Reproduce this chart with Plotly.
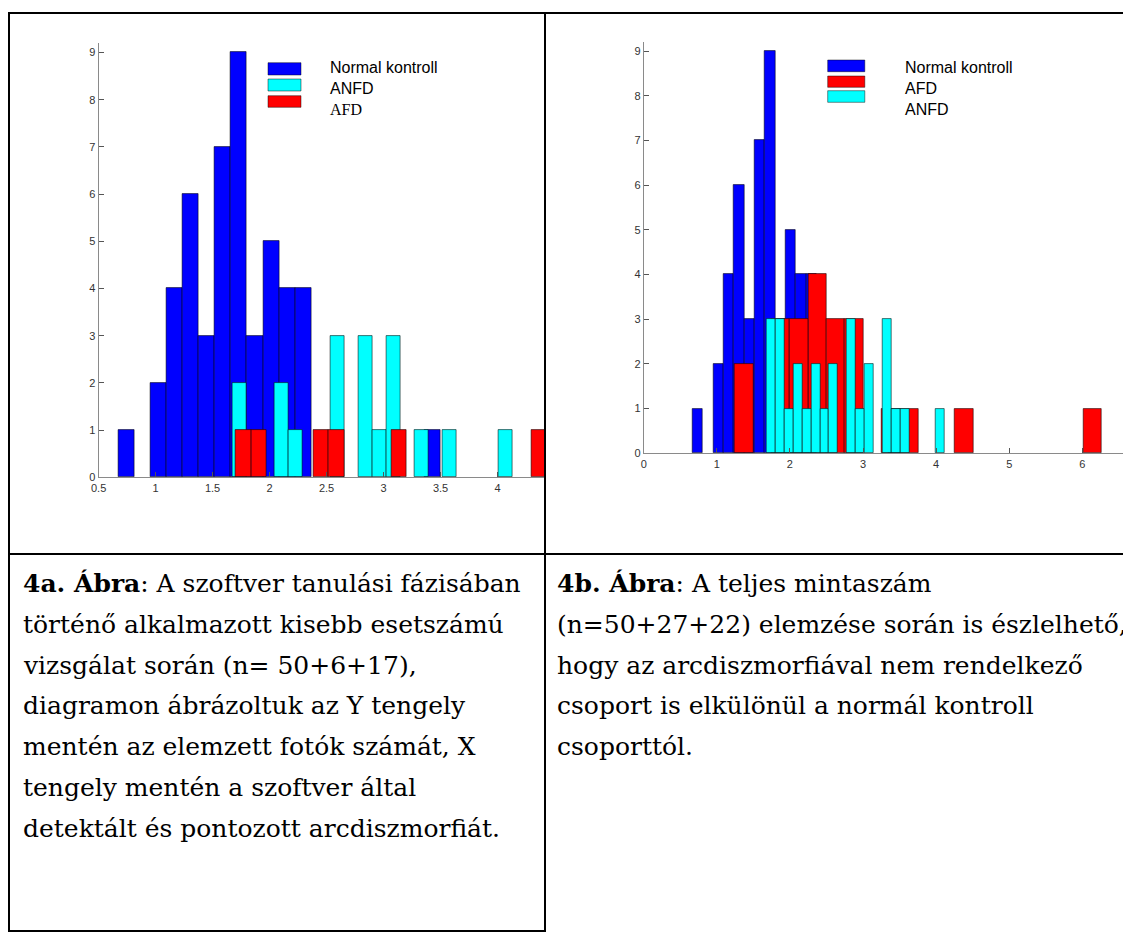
import numpy as np
import plotly.graph_objects as go

# The page body has an 8px default margin, so the figure is drawn 8px
# smaller and all reference pixel positions are shifted by that offset.
PAGE_W, PAGE_H = 1131, 933
OFF = 8
W, H = PAGE_W - OFF, PAGE_H - OFF

# ---------------- data ----------------
# Histogram bins: first bin edge, bin width, counts per bin (20 bins each)
normal_start, normal_width = 0.672, 0.1413
normal_counts = [1, 0, 2, 4, 6, 3, 7, 9, 3, 5, 4, 4, 0, 0, 0, 0, 0, 0, 0, 1]

# figure 4a
anfd_a_start, anfd_a_width = 1.673, 0.1228
anfd_a_counts = [2, 0, 0, 2, 1, 0, 0, 3, 0, 3, 1, 3, 0, 1, 0, 1, 0, 0, 0, 1]
afd_a_start, afd_a_width = 1.702, 0.1366
afd_a_counts = [1, 1, 0, 0, 0, 1, 1, 0, 0, 0, 1, 0, 0, 0, 0, 0, 0, 0, 0, 1]

# figure 4b
afd_b_start, afd_b_width = 1.249, 0.2508
afd_b_counts = [2, 0, 3, 3, 4, 3, 3, 0, 1, 1, 0, 0, 1, 0, 0, 0, 0, 0, 0, 1]
anfd_b_start, anfd_b_width = 1.683, 0.1219
anfd_b_counts = [3, 3, 1, 2, 1, 2, 1, 2, 0, 3, 1, 2, 0, 3, 1, 1, 0, 0, 0, 1]

x_ticks_a = [0.5, 1, 1.5, 2, 2.5, 3, 3.5, 4]
x_tick_labels_a = ["0.5", "1", "1.5", "2", "2.5", "3", "3.5", "4"]
x_ticks_b = [0, 1, 2, 3, 4, 5, 6]
y_ticks = [0, 1, 2, 3, 4, 5, 6, 7, 8, 9]

legend_a = ["Normal kontroll", "ANFD", "AFD"]
legend_b = ["Normal kontroll", "AFD", "ANFD"]

caption_a = [
    "<b>4a. Ábra</b>: A szoftver tanulási fázisában",
    "történő alkalmazott kisebb esetszámú",
    "vizsgálat során (n= 50+6+17),",
    "diagramon ábrázoltuk az Y tengely",
    "mentén az elemzett fotók számát, X",
    "tengely mentén a szoftver által",
    "detektált és pontozott arcdiszmorfiát.",
]
caption_b = [
    "<b>4b. Ábra</b>: A teljes mintaszám",
    "(n=50+27+22) elemzése során is észlelhető,",
    "hogy az arcdiszmorfiával nem rendelkező",
    "csoport is elkülönül a normál kontroll",
    "csoporttól.",
]

# ---------------- styles ----------------
BLUE = "#0000ff"
CYAN = "#00ffff"
RED = "#ff0000"
EDGE = "rgba(0,0,0,0.55)"


def fx(px):
    return (px - OFF) / W


def fy(py):
    return 1 - (py - OFF) / H


def hist_trace(start, width, counts, color, xa, ya, name):
    counts = np.array(counts)
    centers = start + width * (np.arange(len(counts)) + 0.5)
    keep = counts > 0
    return go.Bar(
        x=centers[keep], y=counts[keep], width=width, name=name,
        marker=dict(color=color, line=dict(color=EDGE, width=1)),
        xaxis=xa, yaxis=ya, showlegend=False, hoverinfo="x+y+name",
    )


fig = go.Figure()
# 4a: blue, cyan, red
fig.add_trace(hist_trace(normal_start, normal_width, normal_counts, BLUE, "x", "y", legend_a[0]))
fig.add_trace(hist_trace(anfd_a_start, anfd_a_width, anfd_a_counts, CYAN, "x", "y", legend_a[1]))
fig.add_trace(hist_trace(afd_a_start, afd_a_width, afd_a_counts, RED, "x", "y", legend_a[2]))
# 4b: blue, red, cyan
fig.add_trace(hist_trace(normal_start, normal_width, normal_counts, BLUE, "x2", "y2", legend_b[0]))
fig.add_trace(hist_trace(afd_b_start, afd_b_width, afd_b_counts, RED, "x2", "y2", legend_b[1]))
fig.add_trace(hist_trace(anfd_b_start, anfd_b_width, anfd_b_counts, CYAN, "x2", "y2", legend_b[2]))

axis_common = dict(
    showgrid=False, zeroline=False, showline=True, linecolor="#8a8a8a", linewidth=1,
    ticks="inside", ticklen=5, tickcolor="#555555", tickwidth=1,
    tickfont=dict(family="Liberation Sans", size=11, color="#333333"),
    fixedrange=True, automargin=False,
)

fig.update_layout(
    width=W, height=H, autosize=False,
    margin=dict(l=0, r=0, t=0, b=0, pad=0),
    paper_bgcolor="white", plot_bgcolor="rgba(0,0,0,0)",
    barmode="overlay", bargap=0,
    xaxis=dict(axis_common, domain=[fx(98.6), fx(545)], range=[0.5, 4.416],
               tickvals=x_ticks_a, ticktext=x_tick_labels_a, anchor="y"),
    yaxis=dict(axis_common, domain=[fy(477.3), fy(43.1)], range=[0, 9.2],
               tickvals=y_ticks, anchor="x"),
    xaxis2=dict(axis_common, domain=[fx(643.7), 1.0], range=[0, 6.666],
                tickvals=x_ticks_b, anchor="y2"),
    yaxis2=dict(axis_common, domain=[fy(453.3), fy(42.1)], range=[0, 9.2],
                tickvals=y_ticks, anchor="x2"),
)

shapes = []
annotations = []

# ---------- legends (MATLAB-style) ----------
def legend_block(x0, x1, rect_rows, text_x, text_rows, colors, labels, fonts):
    for (r0, r1), c in zip(rect_rows, colors):
        shapes.append(dict(type="rect", xref="paper", yref="paper",
                           x0=fx(x0), x1=fx(x1), y0=fy(r1), y1=fy(r0),
                           fillcolor=c, line=dict(color="rgba(0,0,0,0.45)", width=1)))
    for ty, lab, fnt in zip(text_rows, labels, fonts):
        annotations.append(dict(xref="paper", yref="paper", x=fx(text_x), y=fy(ty),
                                xanchor="left", yanchor="middle", text=lab, showarrow=False,
                                font=dict(family=fnt, size=16, color="black")))

SANS = "Liberation Sans"
SERIF = "Liberation Serif"
legend_block(268, 301, [(62.7, 75), (79, 91), (95.7, 107.3)], 328, [67.7, 88.3, 109.3],
             [BLUE, CYAN, RED], legend_a, [SANS, SANS, SERIF])
legend_block(827.7, 864.8, [(60, 71.7), (76, 87.3), (90.7, 102.3)], 903.4, [67.7, 88.3, 109.3],
             [BLUE, RED, CYAN], legend_b, [SANS, SANS, SANS])

# ---------- table borders ----------
def hline(y, x0, x1, w=2):
    shapes.append(dict(type="line", xref="paper", yref="paper", x0=fx(x0), x1=fx(x1),
                       y0=fy(y), y1=fy(y), line=dict(color="black", width=w)))


def vline(x, y0, y1, w=2):
    shapes.append(dict(type="line", xref="paper", yref="paper", x0=fx(x), x1=fx(x),
                       y0=fy(y0), y1=fy(y1), line=dict(color="black", width=w)))

hline(13, 8, 1131)
hline(554, 8, 1131)
hline(931, 8, 545)
vline(9, 12, 932, 2)
vline(545, 12, 932)

# ---------- captions ----------
CAP_FONT = dict(family="DejaVu Serif", size=25, color="black")
base0, step = 583.5, 40.8
for i, line in enumerate(caption_a):
    annotations.append(dict(xref="paper", yref="paper", x=fx(21), y=fy(base0 + i * step),
                            xanchor="left", yanchor="middle", text=line, showarrow=False,
                            font=CAP_FONT))
for i, line in enumerate(caption_b):
    annotations.append(dict(xref="paper", yref="paper", x=fx(555), y=fy(base0 + i * step),
                            xanchor="left", yanchor="middle", text=line, showarrow=False,
                            font=CAP_FONT))

fig.update_layout(shapes=shapes, annotations=annotations)
fig.write_html("out.html")
